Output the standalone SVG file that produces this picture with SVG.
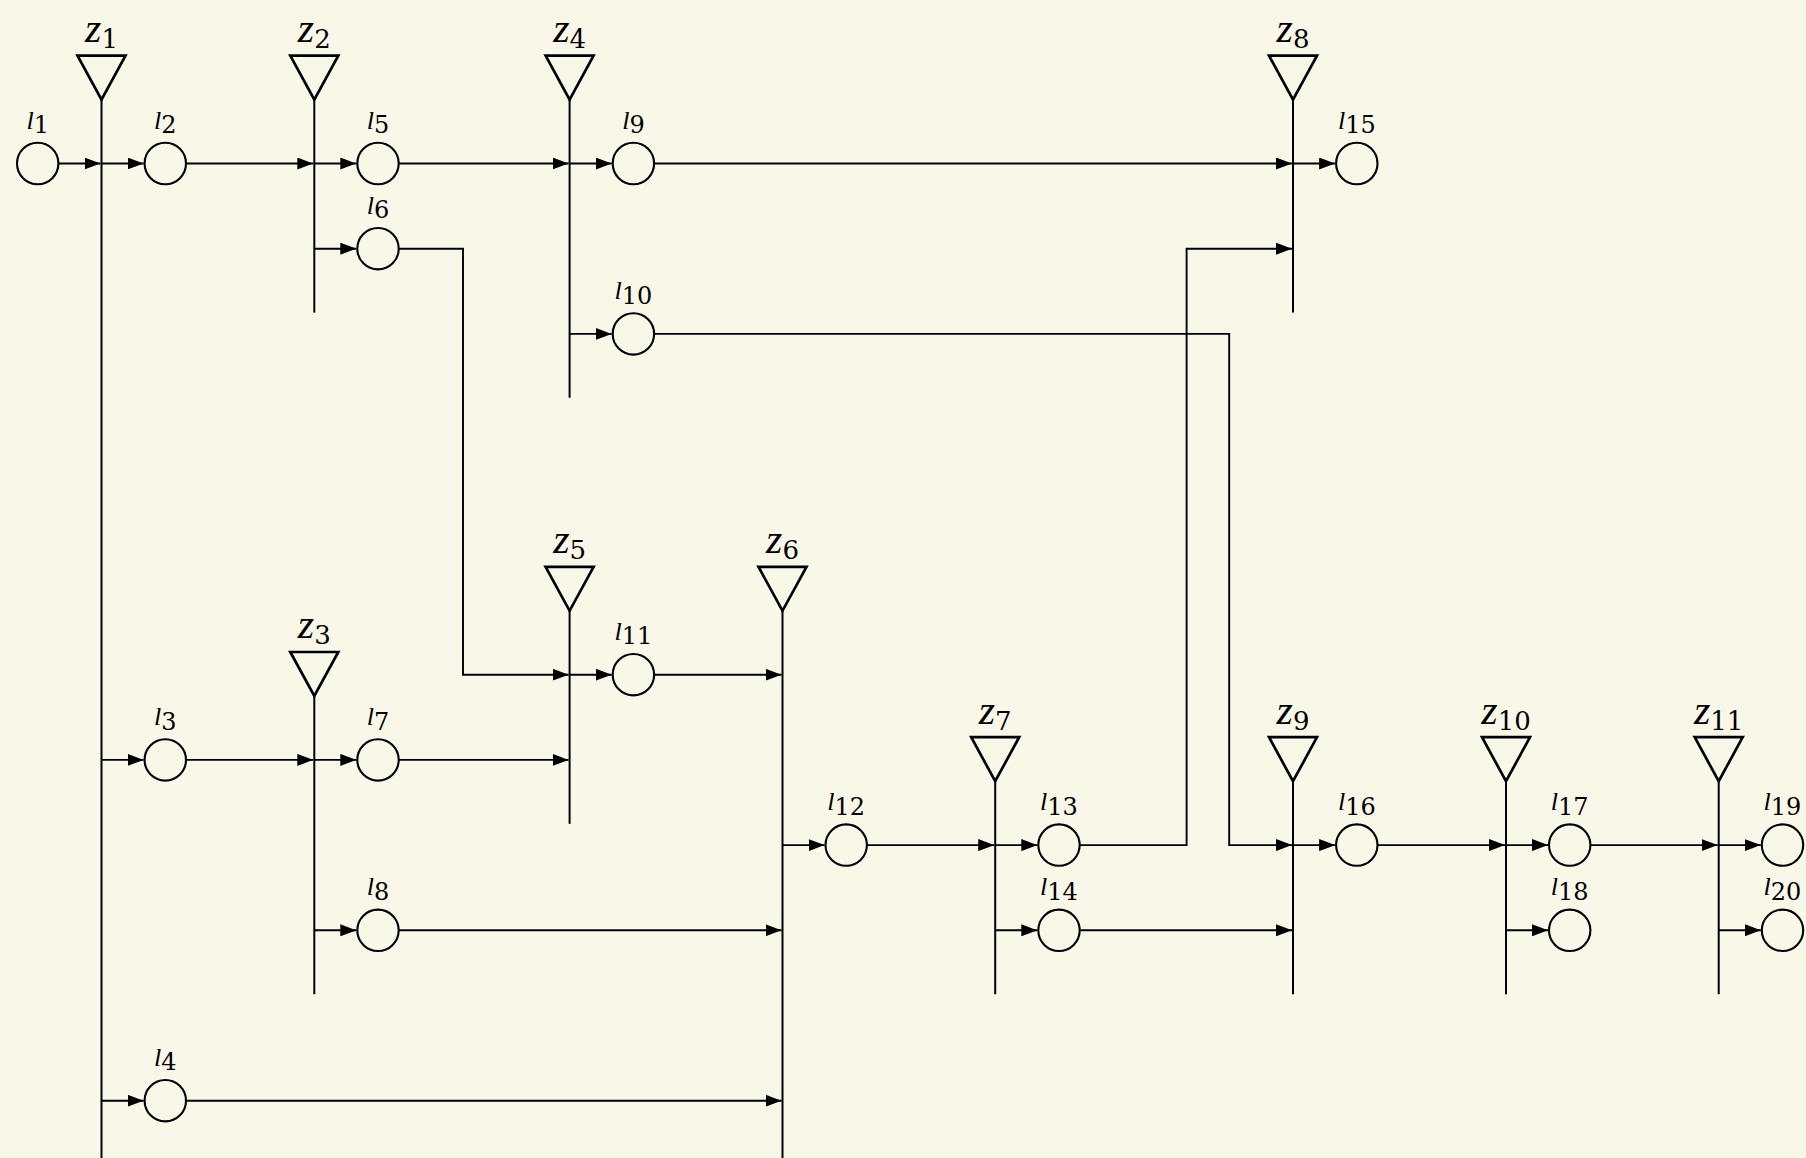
<svg xmlns="http://www.w3.org/2000/svg" width="1806" height="1158" viewBox="0 0 1806 1158">
<defs>
<style>
.bg{fill:#f9f8e8}
.c{fill:none;stroke:#000;stroke-width:2.1}
.tri{fill:none;stroke:#000;stroke-width:2.7;stroke-linejoin:miter}
.bus{fill:none;stroke:#000;stroke-width:2}
.e{fill:none;stroke:#000;stroke-width:1.9}
.a{marker-end:url(#arr)}
text{font-family:"Liberation Serif","Times New Roman",serif;fill:#000;text-anchor:middle}
.zv{font-style:italic;font-size:42px}
.zs{font-family:"DejaVu Serif",serif;font-size:26px}
.lv{font-style:italic;font-size:26px}
.ls{font-family:"DejaVu Serif",serif;font-size:24px}
</style>
<marker id="arr" viewBox="0 0 16 12" refX="16" refY="6" markerWidth="16" markerHeight="12" markerUnits="userSpaceOnUse" orient="auto">
<path d="M0,0 L16,6 L0,12 Z" fill="#000"/>
</marker>
</defs>
<rect class="bg" x="0" y="0" width="1806" height="1158"/>

<!-- bus nodes -->
<g id="z1"><path class="tri" d="M77.5,55.6 H125.5 L101.5,99.6 Z"/><line class="bus" x1="101.5" y1="99.6" x2="101.5" y2="1160"/><text x="101.5" y="42"><tspan class="zv">z</tspan><tspan class="zs" dy="6">1</tspan></text></g>
<g id="z2"><path class="tri" d="M290.3,55.6 H338.3 L314.3,99.6 Z"/><line class="bus" x1="314.3" y1="99.6" x2="314.3" y2="312.6"/><text x="314.3" y="42"><tspan class="zv">z</tspan><tspan class="zs" dy="6">2</tspan></text></g>
<g id="z4"><path class="tri" d="M545.6,55.6 H593.6 L569.6,99.6 Z"/><line class="bus" x1="569.6" y1="99.6" x2="569.6" y2="397.8"/><text x="569.6" y="42"><tspan class="zv">z</tspan><tspan class="zs" dy="6">4</tspan></text></g>
<g id="z8"><path class="tri" d="M1269,55.6 H1317 L1293,99.6 Z"/><line class="bus" x1="1293" y1="99.6" x2="1293" y2="312.6"/><text x="1293" y="42"><tspan class="zv">z</tspan><tspan class="zs" dy="6">8</tspan></text></g>
<g id="z5"><path class="tri" d="M545.6,566.8 H593.6 L569.6,610.8 Z"/><line class="bus" x1="569.6" y1="610.8" x2="569.6" y2="823.8"/><text x="569.6" y="553.2"><tspan class="zv">z</tspan><tspan class="zs" dy="6">5</tspan></text></g>
<g id="z6"><path class="tri" d="M758.5,566.8 H806.5 L782.5,610.8 Z"/><line class="bus" x1="782.5" y1="610.8" x2="782.5" y2="1160"/><text x="782.5" y="553.2"><tspan class="zv">z</tspan><tspan class="zs" dy="6">6</tspan></text></g>
<g id="z3"><path class="tri" d="M290.3,652 H338.3 L314.3,696 Z"/><line class="bus" x1="314.3" y1="696" x2="314.3" y2="994.2"/><text x="314.3" y="638.4"><tspan class="zv">z</tspan><tspan class="zs" dy="6">3</tspan></text></g>
<g id="z7"><path class="tri" d="M971.2,737.2 H1019.2 L995.2,781.2 Z"/><line class="bus" x1="995.2" y1="781.2" x2="995.2" y2="994.2"/><text x="995.2" y="723.6"><tspan class="zv">z</tspan><tspan class="zs" dy="6">7</tspan></text></g>
<g id="z9"><path class="tri" d="M1269,737.2 H1317 L1293,781.2 Z"/><line class="bus" x1="1293" y1="781.2" x2="1293" y2="994.2"/><text x="1293" y="723.6"><tspan class="zv">z</tspan><tspan class="zs" dy="6">9</tspan></text></g>
<g id="z10"><path class="tri" d="M1482,737.2 H1530 L1506,781.2 Z"/><line class="bus" x1="1506" y1="781.2" x2="1506" y2="994.2"/><text x="1506" y="723.6"><tspan class="zv">z</tspan><tspan class="zs" dy="6">10</tspan></text></g>
<g id="z11"><path class="tri" d="M1694.7,737.2 H1742.7 L1718.7,781.2 Z"/><line class="bus" x1="1718.7" y1="781.2" x2="1718.7" y2="994.2"/><text x="1718.7" y="723.6"><tspan class="zv">z</tspan><tspan class="zs" dy="6">11</tspan></text></g>

<!-- line nodes -->
<g id="l1"><circle class="c" cx="37.7" cy="163.5" r="20.7"/><text x="37.7" y="128.5"><tspan class="lv">l</tspan><tspan class="ls" dy="4.6">1</tspan></text></g>
<g id="l2"><circle class="c" cx="165.3" cy="163.5" r="20.7"/><text x="165.3" y="128.5"><tspan class="lv">l</tspan><tspan class="ls" dy="4.6">2</tspan></text></g>
<g id="l5"><circle class="c" cx="378" cy="163.5" r="20.7"/><text x="378" y="128.5"><tspan class="lv">l</tspan><tspan class="ls" dy="4.6">5</tspan></text></g>
<g id="l6"><circle class="c" cx="378" cy="248.7" r="20.7"/><text x="378" y="213.7"><tspan class="lv">l</tspan><tspan class="ls" dy="4.6">6</tspan></text></g>
<g id="l9"><circle class="c" cx="633.4" cy="163.5" r="20.7"/><text x="633.4" y="128.5"><tspan class="lv">l</tspan><tspan class="ls" dy="4.6">9</tspan></text></g>
<g id="l10"><circle class="c" cx="633.4" cy="333.9" r="20.7"/><text x="633.4" y="298.9"><tspan class="lv">l</tspan><tspan class="ls" dy="4.6">10</tspan></text></g>
<g id="l15"><circle class="c" cx="1356.8" cy="163.5" r="20.7"/><text x="1356.8" y="128.5"><tspan class="lv">l</tspan><tspan class="ls" dy="4.6">15</tspan></text></g>
<g id="l11"><circle class="c" cx="633.4" cy="674.7" r="20.7"/><text x="633.4" y="639.7"><tspan class="lv">l</tspan><tspan class="ls" dy="4.6">11</tspan></text></g>
<g id="l3"><circle class="c" cx="165.3" cy="759.9" r="20.7"/><text x="165.3" y="724.9"><tspan class="lv">l</tspan><tspan class="ls" dy="4.6">3</tspan></text></g>
<g id="l7"><circle class="c" cx="378" cy="759.9" r="20.7"/><text x="378" y="724.9"><tspan class="lv">l</tspan><tspan class="ls" dy="4.6">7</tspan></text></g>
<g id="l8"><circle class="c" cx="378" cy="930.3" r="20.7"/><text x="378" y="895.3"><tspan class="lv">l</tspan><tspan class="ls" dy="4.6">8</tspan></text></g>
<g id="l4"><circle class="c" cx="165.3" cy="1100.7" r="20.7"/><text x="165.3" y="1065.7"><tspan class="lv">l</tspan><tspan class="ls" dy="4.6">4</tspan></text></g>
<g id="l12"><circle class="c" cx="846.2" cy="845.1" r="20.7"/><text x="846.2" y="810.1"><tspan class="lv">l</tspan><tspan class="ls" dy="4.6">12</tspan></text></g>
<g id="l13"><circle class="c" cx="1059" cy="845.1" r="20.7"/><text x="1059" y="810.1"><tspan class="lv">l</tspan><tspan class="ls" dy="4.6">13</tspan></text></g>
<g id="l14"><circle class="c" cx="1059" cy="930.3" r="20.7"/><text x="1059" y="895.3"><tspan class="lv">l</tspan><tspan class="ls" dy="4.6">14</tspan></text></g>
<g id="l16"><circle class="c" cx="1356.8" cy="845.1" r="20.7"/><text x="1356.8" y="810.1"><tspan class="lv">l</tspan><tspan class="ls" dy="4.6">16</tspan></text></g>
<g id="l17"><circle class="c" cx="1569.7" cy="845.1" r="20.7"/><text x="1569.7" y="810.1"><tspan class="lv">l</tspan><tspan class="ls" dy="4.6">17</tspan></text></g>
<g id="l18"><circle class="c" cx="1569.7" cy="930.3" r="20.7"/><text x="1569.7" y="895.3"><tspan class="lv">l</tspan><tspan class="ls" dy="4.6">18</tspan></text></g>
<g id="l19"><circle class="c" cx="1782.5" cy="845.1" r="20.7"/><text x="1782.5" y="810.1"><tspan class="lv">l</tspan><tspan class="ls" dy="4.6">19</tspan></text></g>
<g id="l20"><circle class="c" cx="1782.5" cy="930.3" r="20.7"/><text x="1782.5" y="895.3"><tspan class="lv">l</tspan><tspan class="ls" dy="4.6">20</tspan></text></g>

<!-- connectors -->
<g id="connectors">
<path class="e a" d="M58.4,163.5 H100.5"/>
<path class="e a" d="M101.5,163.5 H143.6"/>
<path class="e a" d="M186,163.5 H313.3"/>
<path class="e a" d="M314.3,163.5 H356.3"/>
<path class="e a" d="M314.3,248.7 H356.3"/>
<path class="e a" d="M398.7,163.5 H568.6"/>
<path class="e a" d="M569.6,163.5 H611.7"/>
<path class="e a" d="M569.6,333.9 H611.7"/>
<path class="e a" d="M654.1,163.5 H1292"/>
<path class="e a" d="M1293,163.5 H1335.1"/>
<path class="e a" d="M398.7,248.7 H463 V674.7 H568.6"/>
<path class="e a" d="M569.6,674.7 H611.7"/>
<path class="e a" d="M654.1,674.7 H781.5"/>
<path class="e a" d="M101.5,759.9 H143.6"/>
<path class="e a" d="M186,759.9 H313.3"/>
<path class="e a" d="M314.3,759.9 H356.3"/>
<path class="e a" d="M398.7,759.9 H568.6"/>
<path class="e a" d="M314.3,930.3 H356.3"/>
<path class="e a" d="M398.7,930.3 H781.5"/>
<path class="e a" d="M101.5,1100.7 H143.6"/>
<path class="e a" d="M186,1100.7 H781.5"/>
<path class="e a" d="M782.5,845.1 H824.5"/>
<path class="e a" d="M866.9,845.1 H994.2"/>
<path class="e a" d="M995.2,845.1 H1037.3"/>
<path class="e a" d="M995.2,930.3 H1037.3"/>
<path class="e a" d="M1079.7,845.1 H1186.6 V248.7 H1292"/>
<path class="e a" d="M654.1,333.9 H1229.2 V845.1 H1292"/>
<path class="e a" d="M1079.7,930.3 H1292"/>
<path class="e a" d="M1293,845.1 H1335.1"/>
<path class="e a" d="M1377.5,845.1 H1505"/>
<path class="e a" d="M1506,845.1 H1548"/>
<path class="e a" d="M1506,930.3 H1548"/>
<path class="e a" d="M1590.4,845.1 H1717.7"/>
<path class="e a" d="M1718.7,845.1 H1760.8"/>
<path class="e a" d="M1718.7,930.3 H1760.8"/>
</g>
</svg>
